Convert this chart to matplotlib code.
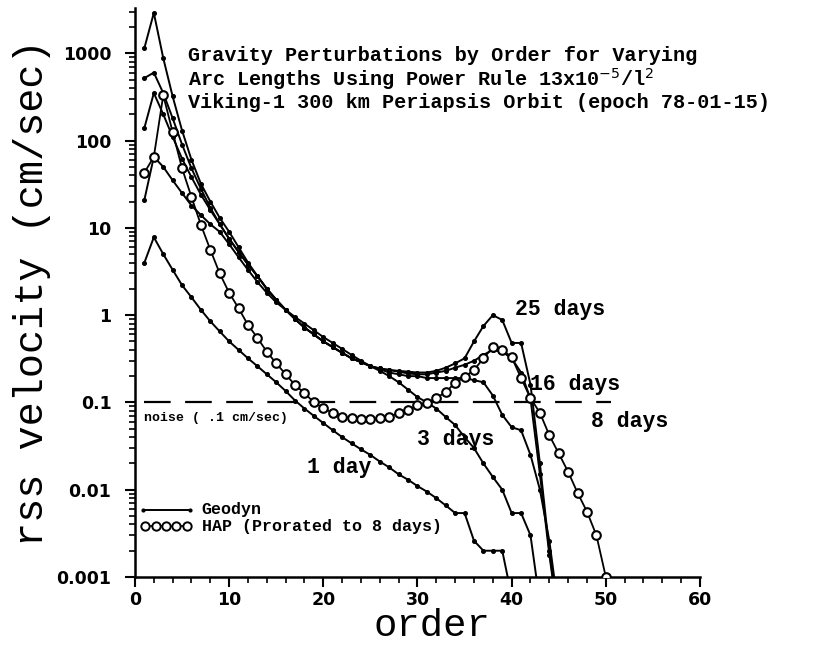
import matplotlib
matplotlib.use("Agg")
import matplotlib.pyplot as plt
from matplotlib.ticker import FixedLocator, NullFormatter, FixedFormatter

# ---------------- data ----------------
orders_1d = list(range(1, 41))
vel_1d = [4.0, 7.8, 5.0, 3.3, 2.2, 1.6, 1.15, 0.85, 0.65, 0.5,
          0.4, 0.32, 0.26, 0.21, 0.17, 0.135, 0.105, 0.085, 0.07, 0.058,
          0.048, 0.04, 0.034, 0.029, 0.025, 0.021, 0.018, 0.015, 0.013, 0.011,
          0.0095, 0.008, 0.0066, 0.0054, 0.0054, 0.0026, 0.002, 0.002, 0.002, 0.0006]

orders_3d = list(range(1, 44))
vel_3d = [21, 65, 50, 35, 25, 18, 14, 11, 9, 6.5,
          4.6, 3.3, 2.4, 1.8, 1.4, 1.15, 0.95, 0.8, 0.67, 0.56,
          0.48, 0.41, 0.35, 0.3, 0.26, 0.23, 0.2, 0.17, 0.14, 0.115,
          0.1, 0.085, 0.068, 0.055, 0.04, 0.03, 0.02, 0.014, 0.01, 0.0054,
          0.0054, 0.003, 0.0005]

orders_8d = list(range(1, 46))
vel_8d = [140, 350, 200, 110, 62, 38, 24, 16, 11, 7.5,
          5.3, 3.8, 2.8, 2.0, 1.5, 1.15, 0.9, 0.72, 0.6, 0.5,
          0.43, 0.37, 0.32, 0.29, 0.26, 0.24, 0.22, 0.21, 0.2, 0.2,
          0.19, 0.19, 0.19, 0.19, 0.19, 0.18, 0.17, 0.12, 0.072, 0.052,
          0.048, 0.025, 0.01, 0.0026, 0.0004]

orders_16d = list(range(1, 46))
vel_16d = [520, 600, 350, 180, 90, 48, 28, 17, 11, 7.5,
           5.3, 3.8, 2.8, 2.0, 1.5, 1.15, 0.9, 0.72, 0.6, 0.5,
           0.43, 0.37, 0.32, 0.29, 0.26, 0.245, 0.235, 0.225, 0.215, 0.21,
           0.21, 0.22, 0.23, 0.25, 0.27, 0.3, 0.35, 0.4, 0.38, 0.32,
           0.22, 0.11, 0.015, 0.0018, 0.0003]

orders_25d = list(range(1, 46))
vel_25d = [1150, 2900, 880, 320, 130, 60, 32, 20, 13, 9,
           6, 4, 2.8, 2.0, 1.5, 1.15, 0.9, 0.72, 0.6, 0.5,
           0.43, 0.37, 0.32, 0.29, 0.26, 0.245, 0.235, 0.23, 0.225, 0.22,
           0.22, 0.23, 0.25, 0.28, 0.32, 0.5, 0.75, 1.0, 0.88, 0.48,
           0.48, 0.16, 0.02, 0.002, 0.0003]

orders_hap = list(range(1, 51))
vel_hap = [43, 65, 330, 125, 48, 22.5, 10.8, 5.6, 3.0, 1.8,
           1.2, 0.77, 0.55, 0.38, 0.28, 0.21, 0.158, 0.128, 0.10, 0.086,
           0.076, 0.068, 0.066, 0.065, 0.065, 0.066, 0.068, 0.076, 0.082, 0.093,
           0.098, 0.112, 0.132, 0.167, 0.195, 0.235, 0.32, 0.43, 0.40, 0.33,
           0.19, 0.112, 0.076, 0.042, 0.026, 0.016, 0.0092, 0.0056, 0.003, 0.001]

noise_level = 0.1
x_ticks = [0, 10, 20, 30, 40, 50, 60]
y_ticks = [0.001, 0.01, 0.1, 1, 10, 100, 1000]
y_tick_labels = ["0.001", "0.01", "0.1", "1", "10", "100", "1000"]

title_text = ("Gravity Perturbations by Order for Varying\n"
              r"Arc Lengths Using Power Rule 13x10$^{-5}$/l$^{2}$" "\n"
              "Viking-1 300 km Periapsis Orbit (epoch 78-01-15)")

# ---------------- figure ----------------
W, H = 828, 645
fig = plt.figure(figsize=(W / 100, H / 100), dpi=100)
ax = fig.add_axes([135 / W, 1 - 577 / H, 565 / W, 569 / H])

mono = "Liberation Mono"
ink = "black"

geo_kw = dict(color=ink, lw=1.4, marker="o", ms=2.6, mfc=ink, mec=ink, zorder=3)
for o, v in [(orders_1d, vel_1d), (orders_3d, vel_3d), (orders_8d, vel_8d),
             (orders_16d, vel_16d), (orders_25d, vel_25d)]:
    ax.plot(o, v, **geo_kw)

ax.plot(orders_hap, vel_hap, color=ink, lw=1.3, marker="o", ms=6.2,
        mfc="white", mec=ink, mew=1.5, zorder=4)

ax.axhline(noise_level, xmin=1 / 60, xmax=50.5 / 60, color=ink, lw=1.6,
           dashes=(12, 6.5), zorder=2)

ax.set_yscale("log")
ax.set_xlim(0, 60)
ax.set_ylim(0.001, 3300)

for s in ["top", "right"]:
    ax.spines[s].set_visible(False)
for s in ["left", "bottom"]:
    ax.spines[s].set_linewidth(1.8)

ax.xaxis.set_major_locator(FixedLocator(x_ticks))
ax.xaxis.set_minor_locator(FixedLocator(list(range(0, 61, 2))))
ax.yaxis.set_major_locator(FixedLocator(y_ticks))
ax.yaxis.set_major_formatter(FixedFormatter(y_tick_labels))
minors = [m * 10.0 ** e for e in range(-3, 4) for m in range(2, 10)]
ax.yaxis.set_minor_locator(FixedLocator(minors))
ax.yaxis.set_minor_formatter(NullFormatter())

ax.tick_params(axis="both", which="major", direction="out", length=7, width=1.5,
               labelsize=12.5)
ax.tick_params(axis="y", which="major", pad=10)
ax.tick_params(axis="x", which="major", pad=3)
ax.tick_params(axis="both", which="minor", direction="out", length=4, width=1.2)
for lab in ax.get_xticklabels() + ax.get_yticklabels():
    lab.set_fontfamily("DejaVu Sans")
    lab.set_fontweight("bold")

fig.text(432 / W, 1 - 636.5 / H, "order", fontfamily=mono, fontsize=28,
         ha="center", va="baseline")
ax.set_ylabel("rss velocity (cm/sec)", fontfamily=mono, fontsize=29, labelpad=4)

# title block inside axes
ax.text(5.65, 10 ** 3.08, title_text, fontfamily=mono, fontweight="bold",
        fontsize=14.5, va="top", ha="left", linespacing=1.04, clip_on=False)

# curve annotations
ann_kw = dict(fontfamily=mono, fontweight="bold", fontsize=15.5, ha="left", va="center")
ax.text(40.4, 10 ** 0.06, "25 days", **ann_kw)
ax.text(42.0, 10 ** -0.80, "16 days", **ann_kw)
ax.text(48.4, 10 ** -1.22, "8 days", **ann_kw)
ax.text(30.0, 10 ** -1.43, "3 days", **ann_kw)
ax.text(18.3, 10 ** -1.75, "1 day", **ann_kw)

ax.text(1.0, 10 ** -1.18, "noise ( .1 cm/sec)", fontfamily=mono, fontweight="bold",
        fontsize=9.5, ha="left", va="center")

# hand-made legend
ax.plot([0.85, 5.85], [10 ** -2.23] * 2, color=ink, lw=1.4, marker="o", ms=2.0,
        markevery=[0, 1], zorder=3)
ax.text(7.1, 10 ** -2.23, "Geodyn", fontfamily=mono, fontweight="bold",
        fontsize=12, ha="left", va="center")
ax.plot([1.1, 2.2, 3.3, 4.4, 5.5], [10 ** -2.42] * 5, color=ink, lw=1.2,
        marker="o", ms=6.0, mfc="white", mec=ink, mew=1.4, zorder=3)
ax.text(7.1, 10 ** -2.42, "HAP (Prorated to 8 days)", fontfamily=mono,
        fontweight="bold", fontsize=12, ha="left", va="center")

fig.savefig("out.png", dpi=100)
